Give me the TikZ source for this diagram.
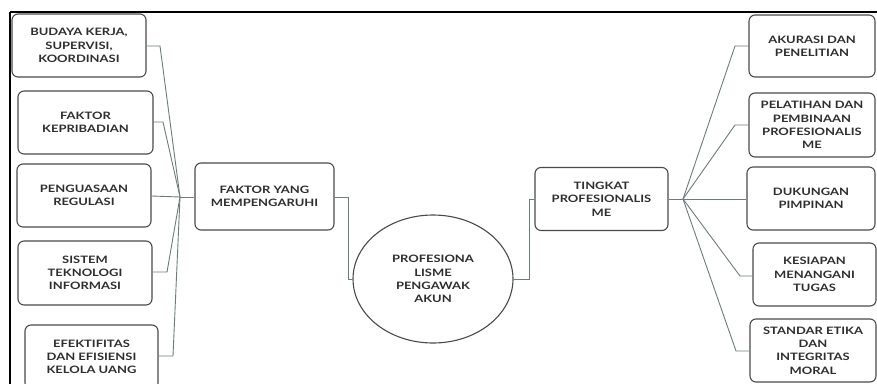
\documentclass[tikz,border=0pt]{standalone}
\usepackage{fontspec}
\setmainfont{Lato}[FakeStretch=1.27]
\usetikzlibrary{shapes.geometric}
\begin{document}
\begin{tikzpicture}[x=1pt,y=-1pt,
  box/.style={draw=boxgray, line width=1.1pt, rounded corners=6pt, align=center,
    font=\fontsize{10.2}{13.3}\selectfont\bfseries, text=txtgray, inner sep=0pt},
  conn/.style={draw=lineclr, line width=0.9pt}]
\definecolor{boxgray}{HTML}{4A4A4A}
\definecolor{txtgray}{HTML}{2E2E2E}
\definecolor{lineclr}{HTML}{6E7C7C}
\useasboundingbox (0,0) rectangle (877,383);
\clip (0,0) rectangle (877,383);
\fill[white] (0,0) rectangle (877,383);
% frame
\draw[black, line width=2pt] (10,12) -- (880,12);
\draw[black, line width=2pt] (10,12) -- (10,390);
% left boxes
\node[box, minimum width=134pt, minimum height=63pt] (L1) at (79,45.5) {BUDAYA KERJA,\\SUPERVISI,\\KOORDINASI};
\node[box, minimum width=135pt, minimum height=63pt] (L2) at (85.5,122.5) {FAKTOR\\KEPRIBADIAN};
\node[box, minimum width=134pt, minimum height=63pt] (L3) at (84,195.5) {PENGUASAAN\\REGULASI};
\node[box, minimum width=134pt, minimum height=64pt] (L4) at (85,273) {SISTEM\\TEKNOLOGI\\INFORMASI};
\node[box, minimum width=133pt, minimum height=64pt] (L5) at (91.5,357) {EFEKTIFITAS\\DAN EFISIENSI\\KELOLA UANG};
% middle
\node[box, minimum width=139pt, minimum height=67pt] (F) at (264.5,196.5) {FAKTOR YANG\\MEMPENGARUHI};
\node[box, ellipse, rounded corners=0pt, minimum width=160pt, minimum height=128pt] (E) at (433,279) {PROFESIONA\\LISME\\PENGAWAK\\AKUN};
\node[box, minimum width=133pt, minimum height=63pt] (T) at (601.5,199) {TINGKAT\\PROFESIONALIS\\ME};
% right boxes
\node[box, minimum width=126pt, minimum height=62pt] (R1) at (812,46) {AKURASI DAN\\PENELITIAN};
\node[box, minimum width=126pt, minimum height=64pt] (R2) at (812,125) {PELATIHAN DAN\\PEMBINAAN\\PROFESIONALIS\\ME};
\node[box, minimum width=128pt, minimum height=63pt] (R3) at (811,198.5) {DUKUNGAN\\PIMPINAN};
\node[box, minimum width=123pt, minimum height=63pt] (R4) at (814.5,274.5) {KESIAPAN\\MENANGANI\\TUGAS};
\node[box, minimum width=126pt, minimum height=63pt] (R5) at (813,350.5) {STANDAR ETIKA\\DAN\\INTEGRITAS\\MORAL};
% hubs
\coordinate (H1) at (180,197);
\coordinate (H2) at (683,199);
% left connectors
\draw[conn] (L1.east |- 0,46) -- (160,46) -- (H1);
\draw[conn] (L2.east |- 0,122) -- (163,122) -- (H1);
\draw[conn] (L3.east |- 0,196) -- (H1);
\draw[conn] (L4.east |- 0,272) -- (167,272) -- (H1);
\draw[conn] (L5.east |- 0,356) -- (173,356) -- (H1);
\draw[conn] (H1) -- (F.west |- H1);
% middle connectors
\draw[conn] (F.east |- 0,197) -- (348,197) -- (348,279) -- (E.west);
\draw[conn] (E.east) -- (529,279) -- (529,199) -- (T.west |- 0,199);
\draw[conn] (T.east |- H2) -- (H2);
% right connectors
\draw[conn] (H2) -- (735,46) -- (R1.west |- 0,46);
\draw[conn] (H2) -- (735,125) -- (R2.west |- 0,125);
\draw[conn] (H2) -- (R3.west |- H2);
\draw[conn] (H2) -- (740,276) -- (R4.west |- 0,276);
\draw[conn] (H2) -- (736,351) -- (R5.west |- 0,351);
\end{tikzpicture}
\end{document}
